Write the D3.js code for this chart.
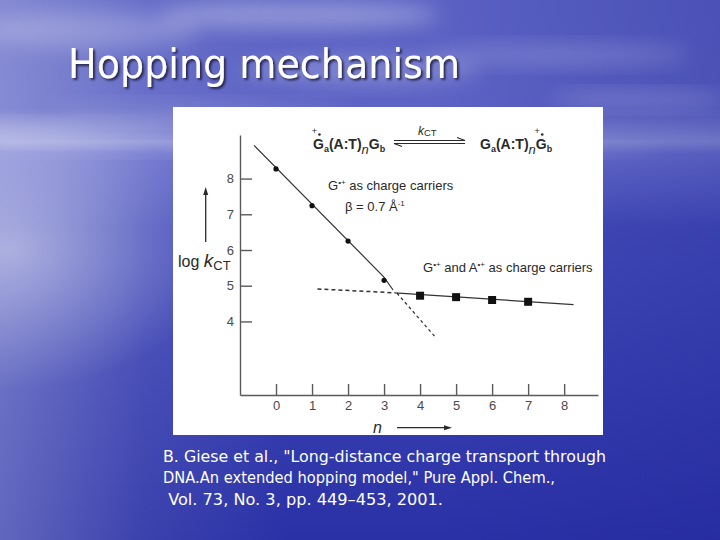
<!DOCTYPE html>
<html>
<head>
<meta charset="utf-8">
<script src="https://cdn.jsdelivr.net/npm/d3@7"></script>
<style>
  html, body { margin: 0; padding: 0; background: #3a42b4; }
  svg { display: block; }
</style>
</head>
<body>
<script>
// ---------- data ----------
const xTicks = [0, 1, 2, 3, 4, 5, 6, 7, 8];
const yTicks = [4, 5, 6, 7, 8];

// G•+ as charge carriers (superexchange)
const nG = [0, 1, 2, 3];
const logG = [8.27, 7.24, 6.25, 5.15];
// G•+ and A•+ as charge carriers (hopping)
const nGA = [4, 5, 6, 7];
const logGA = [4.72, 4.68, 4.60, 4.55];

// fitted lines
const steepFitN = [-0.61, 2.99, 3.25];
const steepFitV = [8.93, 5.25, 4.88];
const steepExtN = [3.36, 4.45];
const steepExtV = [4.79, 3.53];
const flatFitN = [3.30, 8.26];
const flatFitV = [4.80, 4.47];
const flatExtN = [1.15, 3.30];
const flatExtV = [4.91, 4.80];

const titleText = "Hopping mechanism";
const citation = [
  "B. Giese et al., \"Long-distance charge transport through",
  "DNA.An extended hopping model,\" Pure Appl. Chem.,",
  " Vol. 73, No. 3, pp. 449\u2013453, 2001."
];

// ---------- svg ----------
const W = 720, H = 540;
const svg = d3.select("body").append("svg").attr("width", W).attr("height", H);
const defs = svg.append("defs");

// background gradients
const gV = defs.append("linearGradient").attr("id", "bgV").attr("x1", 0).attr("y1", 0).attr("x2", 0).attr("y2", 1);
[[0, "#5a61c3"], [0.2, "#5c63c4"], [0.262, "#8a90d6"], [0.285, "#6a70cc"], [0.42, "#434bb9"], [1, "#2a31a6"]]
  .forEach(([o, c]) => gV.append("stop").attr("offset", o).attr("stop-color", c));

const gH = defs.append("linearGradient").attr("id", "bgH").attr("x1", 0).attr("y1", 0).attr("x2", 1).attr("y2", 0);
[[0, "#ffffff", 0.26], [0.2, "#ffffff", 0.08], [0.4, "#ffffff", 0.0], [0.6, "#1c2290", 0.0], [1, "#1c2290", 0.25]]
  .forEach(([o, c, a]) => gH.append("stop").attr("offset", o).attr("stop-color", c).attr("stop-opacity", a));

const gR = defs.append("radialGradient").attr("id", "glare").attr("cx", 0.5).attr("cy", 0.5).attr("r", 0.5);
gR.append("stop").attr("offset", 0).attr("stop-color", "#ffffff").attr("stop-opacity", 0.42);
gR.append("stop").attr("offset", 1).attr("stop-color", "#ffffff").attr("stop-opacity", 0);

defs.append("filter").attr("id", "blur").attr("x", "-50%").attr("y", "-50%").attr("width", "200%").attr("height", "200%")
  .append("feGaussianBlur").attr("stdDeviation", 10);

const shadow = defs.append("filter").attr("id", "tshadow").attr("x", "-10%").attr("y", "-20%").attr("width", "130%").attr("height", "160%");
shadow.append("feDropShadow").attr("dx", 2).attr("dy", 2).attr("stdDeviation", 0.8).attr("flood-color", "#1a1a40").attr("flood-opacity", 0.9);

const bg = svg.append("g");
bg.append("rect").attr("width", W).attr("height", H).attr("fill", "url(#bgV)");
bg.append("rect").attr("width", W).attr("height", H).attr("fill", "url(#bgH)");
bg.append("ellipse").attr("cx", 10).attr("cy", 250).attr("rx", 210).attr("ry", 140).attr("fill", "url(#glare)");

// clouds
const clouds = [
  [90, 30, 110, 18, 0.22], [300, 15, 140, 14, 0.32], [360, 70, 120, 14, 0.22],
  [560, 55, 130, 10, 0.18], [640, 100, 90, 8, 0.2], [200, 112, 150, 9, 0.14],
  [470, 125, 120, 8, 0.14], [60, 132, 110, 9, 0.16], [330, 150, 330, 5, 0.18]
];
bg.selectAll("ellipse.cloud").data(clouds).join("ellipse").attr("class", "cloud")
  .attr("cx", d => d[0]).attr("cy", d => d[1]).attr("rx", d => d[2]).attr("ry", d => d[3])
  .attr("fill", "#ffffff").attr("opacity", d => d[4]).attr("filter", "url(#blur)");

// title
svg.append("text").attr("x", 68).attr("y", 78)
  .attr("font-family", "DejaVu Sans, Verdana, sans-serif").attr("font-size", 41)
  .attr("textLength", 392).attr("lengthAdjust", "spacingAndGlyphs")
  .attr("fill", "#ffffff").attr("filter", "url(#tshadow)").text(titleText);

// white panel
svg.append("rect").attr("x", 173).attr("y", 107).attr("width", 430).attr("height", 328).attr("fill", "#ffffff");

// ---------- chart ----------
const x = d3.scaleLinear().domain([-1, 8.94]).range([240, 598]);
const y = d3.scaleLinear().domain([1.94, 9.22]).range([395, 135]);
const axisColor = "#5a5a5a";

const yAx = svg.append("g").attr("transform", `translate(${x(-1)},0)`)
  .call(d3.axisLeft(y).tickValues(yTicks).tickSizeInner(-12).tickSizeOuter(0).tickPadding(6).tickFormat(d3.format("d")));
const xAx = svg.append("g").attr("transform", `translate(0,${y(1.94)})`)
  .call(d3.axisBottom(x).tickValues(xTicks).tickSizeInner(-11).tickSizeOuter(0).tickPadding(6).tickFormat(d3.format("d")));
[yAx, xAx].forEach(g => {
  g.attr("font-family", "Liberation Sans, Arial, sans-serif").attr("font-size", 13);
  g.select(".domain").attr("stroke", axisColor).attr("stroke-width", 1.4);
  g.selectAll(".tick line").attr("stroke", axisColor).attr("stroke-width", 1.4);
  g.selectAll(".tick text").attr("fill", "#4a4a4a");
});

const line = d3.line().x(d => x(d[0])).y(d => y(d[1]));
const zip = (a, b) => a.map((v, i) => [v, b[i]]);

svg.append("path").attr("d", line(zip(steepFitN, steepFitV))).attr("fill", "none").attr("stroke", "#333").attr("stroke-width", 1.2);
svg.append("path").attr("d", line(zip(steepExtN, steepExtV))).attr("fill", "none").attr("stroke", "#333").attr("stroke-width", 1.3).attr("stroke-dasharray", "3,3");
svg.append("path").attr("d", line(zip(flatFitN, flatFitV))).attr("fill", "none").attr("stroke", "#333").attr("stroke-width", 1.2);
svg.append("path").attr("d", line(zip(flatExtN, flatExtV))).attr("fill", "none").attr("stroke", "#333").attr("stroke-width", 1.5).attr("stroke-dasharray", "4,3");

svg.selectAll("circle.g").data(zip(nG, logG)).join("circle").attr("class", "g")
  .attr("cx", d => x(d[0])).attr("cy", d => y(d[1])).attr("r", 2.6).attr("fill", "#111");
const sq = 8;
svg.selectAll("rect.ga").data(zip(nGA, logGA)).join("rect").attr("class", "ga")
  .attr("x", d => x(d[0]) - sq / 2).attr("y", d => y(d[1]) - sq / 2).attr("width", sq).attr("height", sq).attr("fill", "#111");

// ---------- annotations ----------
const ann = svg.append("g").attr("font-family", "Liberation Sans, Arial, sans-serif").attr("fill", "#2a2a2a");

// y-axis label
const yl = ann.append("text").attr("x", 178).attr("y", 267).attr("font-size", 16);
yl.append("tspan").text("log ");
yl.append("tspan").attr("font-style", "italic").attr("font-size", 19).text("k");
yl.append("tspan").attr("font-size", 13).attr("dy", 3).text("CT");

// arrows
function arrowHead(xt, yt, dir) { // dir: 'up' or 'right'
  if (dir === "up") return `M${xt},${yt}L${xt - 2.5},${yt + 8}L${xt + 2.5},${yt + 8}Z`;
  return `M${xt},${yt}L${xt - 8},${yt - 2.5}L${xt - 8},${yt + 2.5}Z`;
}
ann.append("line").attr("x1", 205.7).attr("y1", 242).attr("x2", 205.7).attr("y2", 192).attr("stroke", "#2a2a2a").attr("stroke-width", 1.3);
ann.append("path").attr("d", arrowHead(205.7, 187, "up")).attr("fill", "#2a2a2a");

ann.append("text").attr("x", 373).attr("y", 433).attr("font-size", 16).attr("font-style", "italic").text("n");
ann.append("line").attr("x1", 397).attr("y1", 427.7).attr("x2", 446).attr("y2", 427.7).attr("stroke", "#2a2a2a").attr("stroke-width", 1.3);
ann.append("path").attr("d", arrowHead(452, 427.7, "right")).attr("fill", "#2a2a2a");

// reaction formulas
function formula(x0, yb, radicalIndex) {
  const t = ann.append("text").attr("x", x0).attr("y", yb).attr("font-size", 14).attr("font-weight", "bold");
  t.append("tspan").text("G");
  t.append("tspan").attr("font-size", 9).attr("dy", 3).text("a");
  t.append("tspan").attr("dy", -3).text("(A:T)");
  t.append("tspan").attr("font-size", 13).attr("font-style", "italic").attr("font-weight", "normal").attr("dy", 5).text("n");
  t.append("tspan").attr("dy", -5).text("G");
  t.append("tspan").attr("font-size", 9).attr("dy", 3).text("b");
  const p = t.node().getStartPositionOfChar(radicalIndex);
  const e = t.node().getExtentOfChar(radicalIndex);
  const cx = p.x + e.width / 2;
  ann.append("text").attr("x", cx - 4).attr("y", yb - 15).attr("font-size", 9).attr("text-anchor", "middle").text("+");
  ann.append("circle").attr("cx", cx + 1).attr("cy", yb - 14.5).attr("r", 1.3).attr("fill", "#2a2a2a");
}
formula(313, 149, 0);
formula(480, 149, 8);

// equilibrium arrows
ann.append("path").attr("d", "M394,140.5H465L457,137.5").attr("fill", "none").attr("stroke", "#2a2a2a").attr("stroke-width", 1.1);
ann.append("path").attr("d", "M465,143.5H394L402,146.5").attr("fill", "none").attr("stroke", "#2a2a2a").attr("stroke-width", 1.1);
const kct = ann.append("text").attr("x", 418).attr("y", 135).attr("font-size", 12);
kct.append("tspan").attr("font-style", "italic").text("k");
kct.append("tspan").attr("font-size", 9.5).attr("dy", 0.5).text("CT");

// text labels
const t1 = ann.append("text").attr("x", 328).attr("y", 190).attr("font-size", 13);
t1.append("tspan").text("G");
t1.append("tspan").attr("font-size", 8).attr("dy", -5).text("\u2022+");
t1.append("tspan").attr("dy", 5).text(" as charge carriers");

const t2 = ann.append("text").attr("x", 345).attr("y", 211).attr("font-size", 13);
t2.append("tspan").text("\u03B2 = 0.7 \u00C5");
t2.append("tspan").attr("font-size", 8).attr("dy", -5).text("-1");

const t3 = ann.append("text").attr("x", 423).attr("y", 272).attr("font-size", 13);
t3.append("tspan").text("G");
t3.append("tspan").attr("font-size", 8).attr("dy", -5).text("\u2022+");
t3.append("tspan").attr("dy", 5).text(" and A");
t3.append("tspan").attr("font-size", 8).attr("dy", -5).text("\u2022+");
t3.append("tspan").attr("dy", 5).text(" as charge carriers");

// citation
const citeW = [443, 392, 280];
svg.selectAll("text.cite").data(citation).join("text").attr("class", "cite")
  .attr("x", 163).attr("y", (d, i) => 462 + i * 21.3)
  .attr("font-family", "DejaVu Sans, Verdana, sans-serif").attr("font-size", 16.5)
  .attr("textLength", (d, i) => citeW[i]).attr("lengthAdjust", "spacingAndGlyphs")
  .style("white-space", "pre")
  .attr("fill", "#ffffff").text(d => d);
</script>
</body>
</html>
